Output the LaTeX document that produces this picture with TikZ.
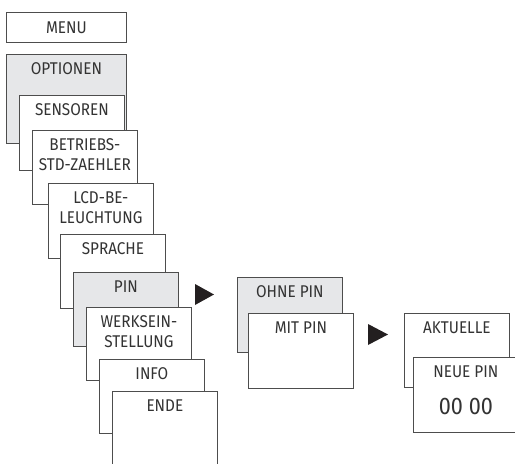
\documentclass[tikz,border=0pt]{standalone}
\usepackage{fontspec}
\setmainfont{Fira Sans}[FakeStretch=0.9]
\usetikzlibrary{positioning}
\definecolor{linegray}{HTML}{4D4D4D}
\definecolor{boxgray}{HTML}{E6E7E9}
\definecolor{textgray}{HTML}{333333}
\definecolor{tridark}{HTML}{231F20}

\begin{document}
\begin{tikzpicture}[x=1pt,y=-1pt,
    box node/.style={rectangle,draw=linegray,fill=white,line width=0.8pt,anchor=north west,minimum width=105pt,minimum height=74pt,inner sep=0pt},
    grey node/.style={box node,fill=boxgray},
    box text/.style={anchor=north,yshift=-5pt,align=center,font=\fontsize{17}{20}\selectfont,text=textgray},
    tri/.style={fill=tridark}]
  \useasboundingbox (0,0) rectangle (515,464);
  % main menu column
  \node[box node,minimum width=120pt,minimum height=30pt] (menu) at (6,12) {};
  \node[anchor=center,font=\fontsize{17}{20}\selectfont,text=textgray] (menutext) at (menu.center) {MENU};
  \node[grey node,minimum width=120pt,minimum height=89pt,label={[box text]north:OPTIONEN}] (optionen) at (6,54) {};
  \node[box node,minimum height=75pt,label={[box text]north:SENSOREN}] (sensoren) at (19,95) {};
  \node[box node,label={[box text]north:BETRIEBS-\\STD-ZAEHLER}] (betrieb) at (32,130) {};
  \node[box node,minimum height=75pt,label={[box text]north:LCD-BE-\\LEUCHTUNG}] (lcd) at (48,183) {};
  \node[box node,label={[box text]north:SPRACHE}] (sprache) at (60,234) {};
  \node[grey node,label={[box text]north:PIN}] (pin) at (73,272) {};
  \node[box node,minimum height=73pt,label={[box text]north:WERKSEIN-\\STELLUNG}] (werk) at (86,307) {};
  \node[box node,label={[box text]north:INFO}] (info) at (99,359) {};
  \node[box node,minimum height=90pt,label={[box text]north:ENDE}] (ende) at (112,391) {};
  \fill[tri] (195,284) -- (214,294.5) -- (195,305) -- cycle;
  % pin choice
  \node[grey node,minimum height=75pt,label={[box text]north:OHNE PIN}] (ohne) at (237,277) {};
  \node[box node,minimum height=75pt,label={[box text]north:MIT PIN}] (mit) at (248,313) {};
  \fill[tri] (368,324) -- (388,334.5) -- (368,345) -- cycle;
  % pin entry
  \node[box node,label={[box text]north:AKTUELLE}] (aktuell) at (404,313) {};
  \node[box node,minimum height=75pt,label={[box text]north:NEUE PIN},
    label={[anchor=north,yshift=-38pt,font=\fontsize{24}{26}\selectfont,text=textgray]north:00 00}] (neu) at (413,357) {};
\end{tikzpicture}
\end{document}
